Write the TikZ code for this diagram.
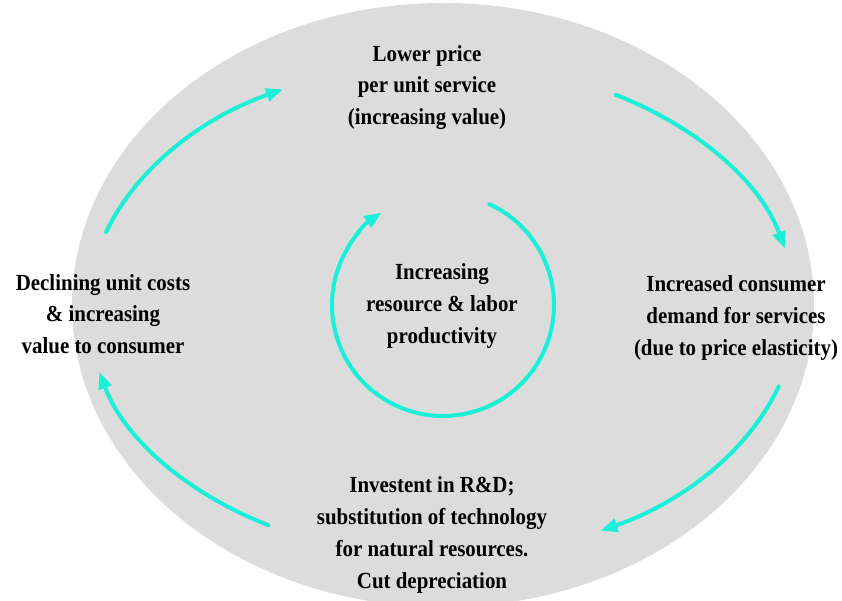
\documentclass[tikz,border=0pt]{standalone}
\usepackage{fontspec}
\setmainfont{Liberation Serif}[FakeStretch=0.91]
\usetikzlibrary{arrows.meta}
\definecolor{bggray}{RGB}{220,220,220}
\definecolor{cyanline}{RGB}{25,240,215}
\tikzset{
  lbl/.style={font=\fontsize{23}{31.7}\selectfont\bfseries, align=center, inner sep=0pt, text=black},
  cyarrow/.style={draw=cyanline, line width=4pt, line cap=round, -{Triangle[length=17pt,width=13pt]}}
}
\begin{document}
\begin{tikzpicture}[x=1pt,y=1pt]
\useasboundingbox (0,0) rectangle (842,601);
\clip (0,0) rectangle (842,601);
\fill[bggray] (443,296) ellipse [x radius=371pt, y radius=302pt];
\coordinate (oc) at (442,291);
\coordinate (ic) at (443,296);
% outer cycle arcs
\draw[cyarrow] (oc) ++(161.6:354pt and 247pt) arc[start angle=161.6, end angle=116.7, x radius=354pt, y radius=247pt];
\draw[cyarrow] (oc) ++(60.6:354pt and 247pt) arc[start angle=60.6, end angle=14.4, x radius=354pt, y radius=247pt];
\draw[cyarrow] (oc) ++(-18:354pt and 247pt) arc[start angle=-18, end angle=-63.4, x radius=354pt, y radius=247pt];
\draw[cyarrow] (oc) ++(240.6:354pt and 247pt) arc[start angle=240.6, end angle=194.5, x radius=354pt, y radius=247pt];
% inner cycle
\draw[cyarrow] (ic) ++(65.3:111pt) arc[start angle=65.3, end angle=-236.3, radius=111pt];
% labels
\node[lbl] (top) at (427,513.5) {Lower price\\per unit service\\(increasing value)};
\node[lbl] (left) at (103,287) {Declining unit costs\\\& increasing\\value to consumer};
\node[lbl] (right) at (736,283) {Increased consumer\\demand for services\\(due to price elasticity)};
\node[lbl] (center) at (442,295) {Increasing\\resource \& labor\\productivity};
\node[lbl] (bottom) at (432,66) {Investent in R\&D;\\substitution of technology\\for natural resources.\\Cut depreciation};
\end{tikzpicture}
\end{document}
